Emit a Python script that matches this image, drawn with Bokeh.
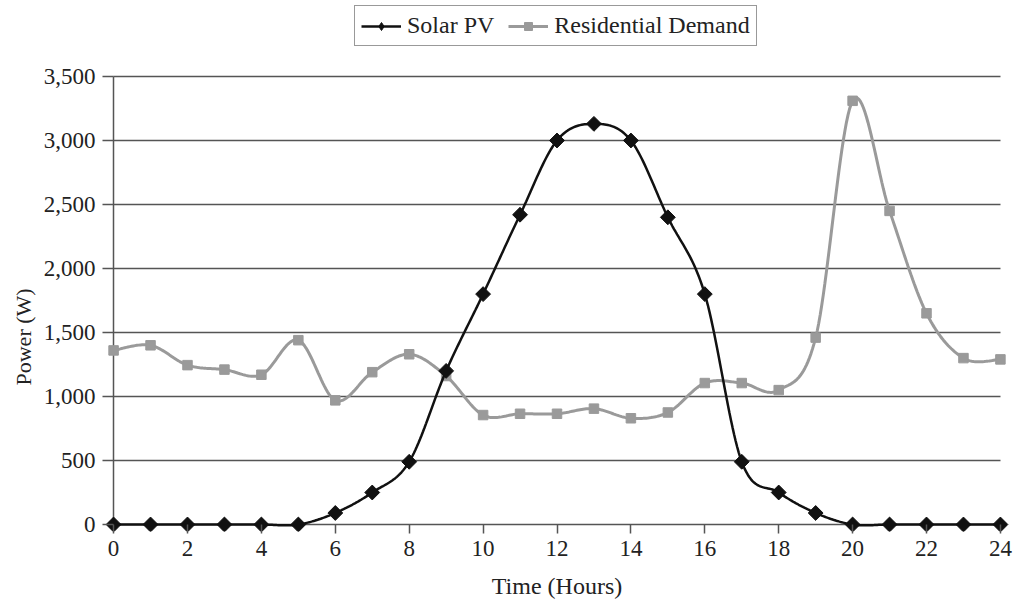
import numpy as np
from bokeh.plotting import figure
from bokeh.models import (Range1d, NumeralTickFormatter, FixedTicker, Legend, LegendItem,
                          Title)
from bokeh.embed import file_html
from bokeh.resources import INLINE

hours = list(range(25))
solar_pv = [0, 0, 0, 0, 0, 0, 90, 250, 490, 1200, 1800, 2420, 3000, 3130, 3000,
            2400, 1800, 490, 250, 90, 0, 0, 0, 0, 0]
residential = [1360, 1400, 1245, 1210, 1170, 1440, 970, 1190, 1330, 1160, 855, 865,
               865, 905, 830, 875, 1105, 1105, 1050, 1460, 3310, 2450, 1650, 1300, 1290]
x_ticks = list(range(0, 25, 2))
y_ticks = list(range(0, 3501, 500))


def smooth(xs, ys, n=24):
    # Catmull-Rom style smoothing (like a spreadsheet "smoothed line") through the data points
    xs = np.asarray(xs, float)
    ys = np.asarray(ys, float)
    px = np.concatenate([[xs[0]], xs, [xs[-1]]])
    py = np.concatenate([[ys[0]], ys, [ys[-1]]])
    ox, oy = [], []
    t = np.linspace(0, 1, n, endpoint=False)
    for i in range(1, len(px) - 2):
        p0 = np.array([px[i], py[i]])
        p3 = np.array([px[i + 1], py[i + 1]])
        c1 = p0 + (np.array([px[i + 1], py[i + 1]]) - np.array([px[i - 1], py[i - 1]])) / 6
        c2 = p3 - (np.array([px[i + 2], py[i + 2]]) - np.array([px[i], py[i]])) / 6
        b = ((1 - t) ** 3)[:, None] * p0 + (3 * (1 - t) ** 2 * t)[:, None] * c1 + \
            (3 * (1 - t) * t ** 2)[:, None] * c2 + (t ** 3)[:, None] * p3
        ox.extend(b[:, 0]); oy.extend(b[:, 1])
    ox.append(xs[-1]); oy.append(ys[-1])
    return ox, oy


FONT = "Liberation Serif"
TXT = "#222222"
AX = "#555555"

# frame spans the whole height; the legend sits in the empty band above 3,500
p = figure(width=1015, height=606, output_backend="svg", toolbar_location=None,
           x_range=Range1d(-0.3, 24.3), y_range=Range1d(-54.7, 4093.75),
           min_border_left=102, min_border_right=4, min_border_top=0, min_border_bottom=75)
p.outline_line_color = None
p.background_fill_color = "white"

sx, sy = smooth(hours, solar_pv)
rx, ry = smooth(hours, residential)

r_line = p.line(rx, ry, line_color="#9a9a9a", line_width=3)
r_pts = p.scatter(hours, residential, marker="square", size=9.5, fill_color="#9a9a9a",
                  line_color="#9a9a9a")
s_line = p.line(sx, sy, line_color="#111111", line_width=2.5)
s_pts = p.scatter(hours, solar_pv, marker="square", angle=np.pi / 4, size=10.5,
                  fill_color="#111111", line_color="#111111")
s_key = p.scatter(x=[np.nan], y=[np.nan], marker="diamond", size=13,
                  fill_color="#111111", line_color="#111111")

# axes (axis lines drawn by grids at x=0 / y=0)
p.xaxis.ticker = FixedTicker(ticks=x_ticks)
p.yaxis.ticker = FixedTicker(ticks=y_ticks)
p.yaxis.formatter = NumeralTickFormatter(format="0,0")
for ax in (p.xaxis[0], p.yaxis[0]):
    ax.axis_line_color = None
    ax.major_tick_line_color = AX
    ax.major_tick_line_width = 1.5
    ax.minor_tick_line_color = None
    ax.major_label_text_font = FONT
    ax.major_label_text_font_size = "23px"
    ax.major_label_text_color = TXT
    ax.axis_label_text_font = FONT
    ax.axis_label_text_color = TXT
    ax.axis_label_text_font_style = "normal"
p.xaxis.major_tick_in = 7
p.xaxis.major_tick_out = 2
p.yaxis.major_tick_in = 11
p.yaxis.major_tick_out = 0
p.xaxis.axis_label = "Time (Hours)"
p.xaxis.axis_label_text_font_size = "24px"
p.xaxis.major_label_standoff = 7
p.xaxis.axis_label_standoff = 14
p.yaxis.major_label_standoff = 7

# y title, placed lower like the reference
ytitle = Title(text="Power (W)", align="left", offset=146, standoff=10,
               text_font=FONT, text_font_size="22px", text_color=TXT,
               text_font_style="normal")
p.add_layout(ytitle, "left")

p.xgrid.ticker = FixedTicker(ticks=[0])
p.xgrid.cross_bounds = (0, 3500)
p.xgrid.grid_line_color = AX
p.xgrid.grid_line_width = 1.5
p.ygrid.cross_bounds = (0, 24)
p.ygrid.grid_line_color = AX
p.ygrid.grid_line_width = 1.5

legend = Legend(items=[LegendItem(label="Solar PV", renderers=[s_line, s_key]),
                       LegendItem(label="Residential Demand", renderers=[r_line, r_pts])],
                orientation="horizontal", location=(252, 485),
                label_text_font=FONT, label_text_font_style="normal")
legend.label_text_font_size = "24px"
legend.label_text_color = TXT
legend.border_line_color = "#333333"
legend.border_line_width = 1.5
legend.glyph_width = 40
legend.label_standoff = 6
legend.spacing = 14
legend.padding = 6
legend.margin = 0
legend.background_fill_alpha = 1
p.add_layout(legend, "center")

open("out.html", "w").write(file_html(p, INLINE))
